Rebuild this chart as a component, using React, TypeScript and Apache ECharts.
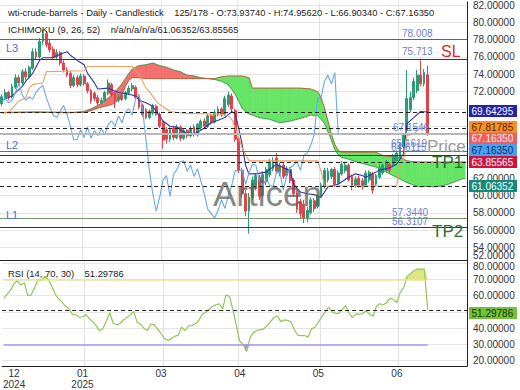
import React, { useEffect, useRef } from "react";
import * as echarts from "echarts";

// ---------- data ----------
const SLOT_COUNT = 136; // 125 bars + future slots for the shifted cloud

const OPEN = [
  70.6, 71.3, 71.9, 71.4, 72.5, 73.6, 73.0, 74.3, 73.7, 74.7,
  76.6, 76.0, 77.8, 78.7, 77.6, 76.9, 76.0, 76.5, 75.3, 74.5,
  74.1, 72.7, 73.6, 72.8, 73.8, 72.9, 72.1, 71.8, 71.3, 70.7,
  71.0, 71.8, 72.8, 71.8, 71.0, 71.6, 71.2, 71.8, 72.3, 72.5,
  71.5, 70.4, 69.9, 69.0, 69.5, 70.3, 69.4, 68.4, 67.6, 66.5,
  67.8, 66.7, 67.9, 66.6, 67.5, 66.9, 67.9, 67.0, 67.8, 68.6,
  68.0, 69.2, 68.5, 69.3, 70.0, 69.4, 70.5, 71.5, 69.8, 66.6,
  62.9, 60.2, 58.2, 59.8, 61.0, 62.1, 60.0, 61.6, 62.4, 63.1,
  64.3, 62.6, 63.5, 62.3, 63.0, 61.8, 60.3, 59.3, 59.0, 57.3,
  58.0, 59.4, 58.7, 59.9, 61.0, 61.8, 62.2, 63.0, 61.4, 62.5,
  62.9, 63.5, 62.2, 61.1, 62.0, 61.7, 61.2, 61.8, 62.5, 61.3,
  62.1, 62.6, 62.9, 63.6, 63.6, 64.0, 64.4, 65.6, 67.5, 69.9,
  71.3, 72.1, 73.9, 72.9, 73.9374,
];
const CLOSE = [
  71.4, 71.9, 71.4, 72.6, 73.6, 73.0, 74.3, 73.7, 74.8, 76.6,
  76.0, 77.8, 78.7, 77.4, 76.8, 76.0, 76.5, 75.3, 74.5, 73.9,
  72.7, 73.6, 72.8, 73.8, 72.9, 72.1, 70.9, 71.2, 70.7, 71.0,
  71.9, 73.0, 71.6, 71.0, 71.4, 71.1, 71.9, 72.4, 72.7, 71.3,
  70.2, 69.3, 69.0, 69.7, 70.4, 69.4, 68.0, 66.4, 66.5, 67.6,
  66.7, 67.9, 66.6, 67.5, 66.9, 67.7, 67.0, 68.2, 68.6, 68.0,
  69.2, 68.4, 69.6, 70.0, 69.3, 71.2, 71.6, 70.0, 66.5, 62.9,
  60.2, 58.2, 59.8, 61.8, 62.3, 59.9, 62.4, 63.0, 63.9, 64.0,
  62.8, 63.5, 62.2, 63.1, 61.7, 60.2, 58.4, 57.9, 57.4, 58.3,
  59.5, 58.5, 60.0, 61.2, 62.9, 62.8, 63.0, 61.3, 62.6, 63.6,
  63.5, 61.8, 61.1, 61.9, 61.2, 61.0, 62.6, 62.7, 60.6, 62.3,
  63.2, 63.5, 63.9, 62.9, 64.6, 64.9, 65.8, 67.0, 71.2, 71.3,
  73.2, 73.9, 72.9, 74.2, 67.1635,
];
const LOW = [
  70.3, 71.0, 71.0, 71.2, 72.3, 72.7, 72.8, 73.3, 73.5, 74.5,
  75.7, 75.8, 77.4, 77.1, 76.5, 75.7, 75.6, 75.0, 74.2, 73.7,
  72.4, 72.5, 72.5, 72.6, 72.7, 71.8, 70.6, 70.9, 70.4, 70.5,
  70.8, 71.6, 71.4, 70.1, 70.8, 70.9, 71.0, 71.6, 72.0, 71.1,
  70.0, 69.1, 68.8, 68.8, 69.3, 69.2, 67.8, 65.4, 66.0, 66.2,
  66.4, 66.5, 66.3, 66.4, 66.6, 66.7, 66.8, 66.8, 67.5, 67.8,
  67.8, 68.2, 68.3, 69.1, 69.1, 69.2, 70.2, 69.7, 66.2, 62.6,
  59.8, 57.6, 55.6, 59.5, 60.6, 59.5, 59.7, 61.2, 62.1, 62.8,
  62.5, 62.2, 61.9, 62.0, 61.4, 59.9, 58.0, 57.4, 56.8, 56.9,
  57.8, 58.1, 58.5, 59.7, 60.8, 61.5, 61.9, 61.0, 61.2, 62.3,
  62.6, 61.6, 60.6, 60.9, 60.9, 60.7, 61.0, 61.5, 60.2, 61.0,
  61.9, 62.4, 62.7, 62.6, 63.4, 63.8, 64.2, 65.4, 67.3, 69.6,
  71.0, 71.8, 72.6, 72.6, 66.9034,
];
const HIGH = [
  71.7, 72.3, 72.1, 72.9, 74.0, 73.9, 74.6, 74.7, 75.0, 77.0,
  77.0, 78.2, 79.1, 79.0, 78.1, 77.2, 76.9, 76.7, 75.6, 74.8,
  74.4, 73.9, 73.9, 74.1, 74.0, 73.1, 72.3, 72.0, 71.6, 71.3,
  72.1, 73.4, 73.0, 72.0, 71.7, 71.8, 72.1, 72.7, 73.0, 72.7,
  71.7, 70.6, 70.1, 69.9, 70.6, 70.5, 69.6, 68.6, 67.9, 67.9,
  68.0, 68.2, 68.1, 67.8, 67.7, 68.0, 68.2, 68.4, 68.8, 68.9,
  69.5, 69.4, 69.9, 70.3, 70.2, 71.5, 72.0, 71.8, 70.0, 66.8,
  63.2, 60.6, 60.3, 62.2, 62.6, 62.4, 62.8, 63.3, 64.2, 64.4,
  64.9, 63.8, 63.8, 63.4, 63.3, 62.0, 60.6, 59.6, 59.5, 58.7,
  59.8, 59.7, 60.2, 61.5, 63.2, 63.2, 63.2, 63.3, 62.9, 64.0,
  63.9, 63.7, 62.4, 62.2, 62.3, 62.0, 62.9, 62.9, 62.7, 62.5,
  63.6, 63.7, 64.1, 63.8, 64.8, 65.2, 66.0, 67.2, 74.5, 72.0,
  73.6, 74.5, 75.6, 74.6, 74.9562,
];

// Ichimoku lines: [bar index, value]
const TENKAN: [number, number][] = [
  [0, 71.0], [3, 71.5], [6, 72.6], [7, 73.2], [9, 74.1], [11, 75.6], [12, 75.9], [15, 75.9],
  [17, 76.3], [19, 76.6], [20, 76.2], [22, 75.6], [24, 75.1], [25, 74.1], [27, 73.0], [28, 72.3],
  [31, 72.4], [32, 72.2], [34, 71.9], [37, 71.7], [39, 71.5], [40, 71.0], [42, 70.7], [44, 70.3],
  [45, 69.7], [47, 68.6], [49, 68.0], [51, 67.9], [53, 67.4], [55, 67.0], [57, 67.3], [59, 67.8],
  [61, 68.4], [63, 68.7], [65, 69.0], [67, 69.7], [68, 69.4], [69, 67.8], [70, 65.9], [71, 63.5],
  [72, 62.5], [74, 62.5], [77, 62.7], [80, 63.6], [82, 63.2], [84, 62.9], [85, 61.3], [87, 60.4],
  [89, 60.2], [91, 60.1], [93, 59.8], [95, 61.0], [98, 61.3], [101, 62.1], [103, 62.5], [105, 62.3],
  [106, 62.1], [108, 62.5], [110, 62.9], [113, 63.2], [115, 63.6], [117, 64.8], [118, 68.3],
  [120, 69.0], [122, 69.7], [124, 69.64295],
];
const KIJUN: [number, number][] = [
  [0, 69.5], [2, 69.6], [5, 70.9], [7, 71.3], [8, 72.4], [9, 72.8], [12, 73.0], [13, 74.3],
  [24, 74.4], [25, 74.9], [38, 74.9], [40, 74.0], [42, 72.4], [43, 72.0], [45, 70.9], [46, 70.5],
  [49, 69.7], [53, 69.5], [63, 69.4], [66, 69.2], [67, 68.8], [68, 67.8], [69, 66.7], [70, 65.5],
  [71, 64.8], [72, 64.0], [92, 64.0], [93, 62.8], [94, 61.1], [115, 61.1], [116, 63.2], [117, 64.0],
  [118, 66.9], [120, 67.1], [122, 67.8], [124, 67.81785],
];
const CHIKOU_SHIFT = 26;

const CLOUD_X = [
  0, 10, 20, 24, 26, 28, 30, 32, 34, 35, 36, 37, 38, 40, 42, 44, 46, 48, 50, 52, 54, 56, 58, 60, 62,
  63, 64, 66, 68, 70, 72, 73, 75, 78, 81, 84, 87, 90, 92, 93, 94, 95, 96, 97, 98, 99, 101, 104, 106,
  109, 111, 113, 116, 118, 120, 122, 124, 126, 128, 130, 132, 134, 135,
];
const SENKOU_A = [
  69.55, 69.6, 69.55, 69.7, 70.0, 70.4, 70.9, 71.6, 72.4, 72.9, 73.5, 74.1, 74.6, 75.0, 75.1, 75.3,
  75.0, 74.8, 74.5, 74.3, 73.9, 73.8, 73.6, 73.5, 73.4, 73.3, 73.2, 72.8, 71.7, 70.1, 69.4, 69.3,
  69.0, 68.8, 68.4, 68.6, 68.9, 69.3, 69.2, 68.8, 68.3, 67.4, 66.4, 65.3, 64.7, 64.4, 64.2, 63.8,
  63.6, 63.3, 62.9, 62.5, 61.9, 61.5, 61.2, 61.0, 61.06352, 61.0, 61.1, 61.3, 61.6, 61.9, 62.0,
];
const SENKOU_B = [
  69.6, 69.65, 69.6, 69.6, 69.8, 70.1, 70.3, 70.5, 71.0, 71.6, 72.6, 73.3, 73.6, 73.6, 73.5, 73.5,
  73.5, 73.5, 73.5, 73.5, 73.5, 73.5, 73.5, 73.5, 73.5, 73.6, 73.7, 73.8, 73.8, 73.8, 73.6, 72.4,
  72.4, 72.4, 72.4, 72.4, 72.4, 72.3, 72.0, 71.3, 70.1, 68.6, 67.1, 65.9, 65.2, 65.0, 65.0, 65.0,
  65.0, 65.0, 64.6, 64.5, 64.4, 64.0, 63.9, 63.86, 63.85565, 63.85565, 63.85565, 63.85565,
  63.85565, 63.85565, 63.85565,
];

const RSI = [
  58.5, 61.0, 63.5, 67.5, 69.2, 66.5, 68.0, 60.0, 60.5, 64.8,
  70.0, 69.3, 72.0, 70.0, 66.0, 61.0, 58.0, 56.1, 53.5, 52.2,
  48.5, 48.3, 46.8, 47.0, 48.3, 45.8, 43.8, 41.5, 38.3, 39.8,
  44.5, 49.3, 43.0, 42.0, 42.8, 45.0, 46.5, 48.3, 50.2, 43.5,
  42.5, 39.8, 38.5, 42.5, 42.0, 39.5, 36.5, 33.5, 32.3, 33.5,
  35.0, 35.5, 40.6, 38.5, 41.2, 41.5, 42.5, 44.5, 48.5, 49.6,
  51.5, 53.3, 54.3, 55.0, 51.8, 60.5, 59.5, 51.5, 41.6, 32.0,
  29.8, 25.5, 33.8, 37.2, 38.4, 39.1, 39.4, 41.5, 43.9, 46.5,
  47.6, 44.0, 45.0, 44.8, 43.8, 39.0, 35.6, 35.4, 35.4, 34.3,
  39.5, 40.5, 43.5, 47.0, 49.8, 53.0, 50.0, 49.2, 49.0, 51.6,
  53.8, 49.0, 46.5, 48.8, 48.4, 49.0, 50.8, 48.5, 47.3, 53.5,
  55.0, 54.4, 55.7, 58.5, 57.5, 55.8, 62.0, 65.2, 71.8, 73.6,
  75.5, 76.4, 76.4, 76.4, 51.29786,
];
const RSI_UPPER = 70;
const RSI_LOWER = 30;

// horizontal levels (L3: 78.008 / 75.713, L2, L1, Ichimoku current values, price)
const LEVELS = [78.008, 75.713, 69.64295, 67.81785, 67.1635, 65.1619, 64.6115, 63.85565, 61.06352, 57.344, 56.3107];

const PRICE_GRID_TICKS = [54, 56, 58, 60, 62, 64, 66, 68, 70, 72, 74, 76, 78, 80, 82];
const PRICE_LABEL_TICKS = [54, 56, 58, 60, 62, 72, 74, 76, 78, 80, 82];
const RSI_GRID_TICKS = [20, 30, 40, 50, 60, 70, 80];
const RSI_LABEL_TICKS = [20, 30, 40, 50, 60, 70];
const MONTH_IDX = [3, 23, 46, 69, 92, 115];
const MONTH_LABELS = ["12\n2024", "01\n2025", "03", "04", "05", "06"];
const VGRID_IDX = [24, 47, 69, 93, 116];

// ---------- styles ----------
const FONT = "'Liberation Sans', Arial, Helvetica, sans-serif";
const UP = "#2a9d76";
const DOWN = "#e2434b";
const CLOUD_UP = "rgba(86,226,86,0.9)";
const CLOUD_DOWN = "rgba(244,96,96,0.9)";
const DASH: number[] = [4, 3];
const LEVEL_STYLE = [
  { color: "#d93030", width: 1.2, type: "solid" },
  { color: "#2a2a9c", width: 1.2, type: "solid" },
  { color: "#222", width: 1, type: DASH },
  { color: "#222", width: 1, type: DASH },
  { color: "#b8b8b8", width: 2, type: "solid" },
  { color: "#3e8e3e", width: 1.2, type: "solid" },
  { color: "#2a2a9c", width: 1.2, type: "solid" },
  { color: "#222", width: 1, type: DASH },
  { color: "#222", width: 1, type: DASH },
  { color: "#7a9a6a", width: 1.2, type: "solid" },
  { color: "#2a2a9c", width: 1.2, type: "solid" },
];

function txt(x: number, y: number, text: string, size: number, fill: string, extra: any = {}) {
  return {
    type: "text",
    x,
    y,
    z: 100,
    silent: true,
    style: { text, fill, fontSize: size, fontFamily: FONT, verticalAlign: "middle", align: "left", ...extra },
  };
}

function box(y: number, text: string, bg: string, fg: string) {
  return {
    type: "group",
    z: 110,
    silent: true,
    children: [
      { type: "rect", shape: { x: 469, y: y - 6, width: 48, height: 12 }, style: { fill: bg }, z: 110 },
      {
        type: "text",
        x: 471.5,
        y,
        z: 111,
        style: { text, fill: fg, fontSize: 10, fontFamily: FONT, verticalAlign: "middle" },
      },
    ],
  };
}

function buildOption(): any {
  const cats = Array.from({ length: SLOT_COUNT }, (_, i) => String(i));
  const candles = OPEN.map((o, i) => [o, CLOSE[i], LOW[i], HIGH[i]]);
  const chikou = CLOSE.slice(CHIKOU_SHIFT).map((c, k) => [k, c]);
  const cloudSegs = CLOUD_X.slice(0, -1).map((x, k) => [
    x, SENKOU_A[k], SENKOU_B[k], CLOUD_X[k + 1], SENKOU_A[k + 1], SENKOU_B[k + 1],
  ]);
  const lastIdx = RSI.length - 1;

  const poly = (pts: number[][], fill: string) => ({
    type: "polygon",
    shape: { points: pts },
    style: { fill, stroke: fill, lineWidth: 0.4 },
  });

  return {
    animation: false,
    backgroundColor: "#ffffff",
    textStyle: { fontFamily: FONT },
    grid: [
      { left: 0, right: 53, top: 0, height: 260 },
      { left: 0, right: 53, top: 260, height: 109 },
    ],
    xAxis: [
      {
        type: "category",
        gridIndex: 0,
        data: cats,
        boundaryGap: true,
        axisLine: { show: true, lineStyle: { color: "#222", width: 1 } },
        axisTick: { show: false },
        axisLabel: { show: false },
        splitLine: { show: true, interval: (i: number) => VGRID_IDX.includes(i), lineStyle: { color: "#e2e2e2" } },
      },
      {
        type: "category",
        gridIndex: 1,
        data: cats,
        boundaryGap: true,
        axisLine: { show: true, lineStyle: { color: "#222", width: 1 } },
        axisTick: { show: false },
        axisLabel: {
          show: true,
          interval: (i: number) => MONTH_IDX.includes(i),
          formatter: (_v: string, i: number) => {
            const k = MONTH_IDX.indexOf(i);
            return k >= 0 ? MONTH_LABELS[k] : "";
          },
          fontSize: 10,
          lineHeight: 11,
          color: "#333",
          margin: 2,
          fontFamily: FONT,
        },
        splitLine: { show: true, interval: (i: number) => VGRID_IDX.includes(i), lineStyle: { color: "#e2e2e2" } },
      },
    ],
    yAxis: [
      {
        type: "value",
        gridIndex: 0,
        position: "right",
        min: 52.55,
        max: 82.36,
        axisLine: { show: true, lineStyle: { color: "#222", width: 1 } },
        axisTick: { show: false, customValues: PRICE_GRID_TICKS },
        axisLabel: {
          customValues: PRICE_LABEL_TICKS,
          formatter: (v: number) => v.toFixed(5),
          fontSize: 10,
          color: "#333",
          margin: 6,
          fontFamily: FONT,
        },
        splitLine: { show: true, lineStyle: { color: "#e6e6e6" } },
      },
      {
        type: "value",
        gridIndex: 1,
        position: "right",
        min: 16.6,
        max: 82,
        axisLine: { show: true, lineStyle: { color: "#222", width: 1 } },
        axisTick: { show: false, customValues: RSI_GRID_TICKS },
        axisLabel: {
          customValues: RSI_LABEL_TICKS,
          formatter: (v: number) => v.toFixed(5),
          fontSize: 10,
          color: "#333",
          margin: 6,
          fontFamily: FONT,
        },
        splitLine: { show: true, lineStyle: { color: "#e6e6e6" } },
      },
    ],
    series: [
      {
        type: "custom",
        name: "cloud",
        xAxisIndex: 0,
        yAxisIndex: 0,
        z: 1,
        clip: true,
        silent: true,
        data: cloudSegs,
        encode: { x: 0, y: 1 },
        renderItem: (_p: any, api: any) => {
          const x0 = api.value(0), a0 = api.value(1), b0 = api.value(2);
          const x1 = api.value(3), a1 = api.value(4), b1 = api.value(5);
          const pa0 = api.coord([x0, a0]), pb0 = api.coord([x0, b0]);
          const pa1 = api.coord([x1, a1]), pb1 = api.coord([x1, b1]);
          const d0 = b0 - a0, d1 = b1 - a1;
          const children: any[] = [];
          if (d0 * d1 < 0) {
            const t = d0 / (d0 - d1);
            const pm = [pa0[0] + t * (pa1[0] - pa0[0]), pa0[1] + t * (pa1[1] - pa0[1])];
            children.push(poly([pa0, pm, pb0], d0 > 0 ? CLOUD_UP : CLOUD_DOWN));
            children.push(poly([pm, pa1, pb1], d1 > 0 ? CLOUD_UP : CLOUD_DOWN));
          } else {
            children.push(poly([pa0, pa1, pb1, pb0], d0 + d1 >= 0 ? CLOUD_UP : CLOUD_DOWN));
          }
          return { type: "group", children };
        },
      },
      {
        type: "line",
        name: "senkouA",
        xAxisIndex: 0,
        yAxisIndex: 0,
        z: 2,
        showSymbol: false,
        silent: true,
        data: CLOUD_X.map((x, k) => [x, SENKOU_A[k]]),
        lineStyle: { color: "#4e9a50", width: 1 },
      },
      {
        type: "line",
        name: "senkouB",
        xAxisIndex: 0,
        yAxisIndex: 0,
        z: 2,
        showSymbol: false,
        silent: true,
        data: CLOUD_X.map((x, k) => [x, SENKOU_B[k]]),
        lineStyle: { color: "#b4643c", width: 1 },
      },
      {
        type: "candlestick",
        name: "price",
        xAxisIndex: 0,
        yAxisIndex: 0,
        z: 3,
        barWidth: "68%",
        data: candles,
        itemStyle: { color: UP, color0: DOWN, borderColor: UP, borderColor0: DOWN, borderWidth: 1 },
        markLine: {
          silent: true,
          symbol: ["none", "none"],
          label: { show: false },
          animation: false,
          data: LEVELS.map((v, k) => ({ yAxis: v, lineStyle: LEVEL_STYLE[k] })),
        },
      },
      {
        type: "line",
        name: "tenkan",
        xAxisIndex: 0,
        yAxisIndex: 0,
        z: 4,
        showSymbol: false,
        silent: true,
        data: TENKAN,
        lineStyle: { color: "#3434a8", width: 1.1 },
      },
      {
        type: "line",
        name: "kijun",
        xAxisIndex: 0,
        yAxisIndex: 0,
        z: 4,
        showSymbol: false,
        silent: true,
        data: KIJUN,
        lineStyle: { color: "#f2a062", width: 1.1 },
      },
      {
        type: "line",
        name: "chikou",
        xAxisIndex: 0,
        yAxisIndex: 0,
        z: 4,
        showSymbol: false,
        silent: true,
        data: chikou,
        lineStyle: { color: "#6aa8e8", width: 1.1 },
      },
      {
        type: "line",
        name: "rsiOB",
        xAxisIndex: 1,
        yAxisIndex: 1,
        z: 2,
        showSymbol: false,
        silent: true,
        data: RSI.map((v) => Math.max(v, RSI_UPPER)),
        lineStyle: { width: 0 },
        areaStyle: { origin: RSI_UPPER, color: "rgba(196,214,40,0.85)" },
      },
      {
        type: "line",
        name: "rsiOS",
        xAxisIndex: 1,
        yAxisIndex: 1,
        z: 2,
        showSymbol: false,
        silent: true,
        data: RSI.map((v) => Math.min(v, RSI_LOWER)),
        lineStyle: { width: 0 },
        areaStyle: { origin: RSI_LOWER, color: "rgba(110,96,210,0.85)" },
      },
      {
        type: "line",
        name: "rsi",
        xAxisIndex: 1,
        yAxisIndex: 1,
        z: 4,
        showSymbol: false,
        silent: true,
        data: RSI,
        lineStyle: { color: "#93c556", width: 1.2 },
        markLine: {
          silent: true,
          symbol: ["none", "none"],
          label: { show: false },
          animation: false,
          data: [
            [
              { coord: ["0", RSI_UPPER], lineStyle: { color: "#e4e49a", width: 1.6, type: "solid" } },
              { coord: [String(lastIdx), RSI_UPPER] },
            ],
            [
              { coord: ["0", RSI_LOWER], lineStyle: { color: "#a29be6", width: 1.6, type: "solid" } },
              { coord: [String(lastIdx), RSI_LOWER] },
            ],
            { yAxis: RSI[lastIdx], lineStyle: { color: "#222", width: 1, type: DASH } },
          ],
        },
      },
    ],
    graphic: {
      elements: [
        txt(8, 12.7, "wti-crude-barrels - Daily - Candlestick    125/178 - O:" + OPEN[lastIdx].toFixed(5) +
          " - H:" + HIGH[lastIdx].toFixed(5) + " - L:" + LOW[lastIdx].toFixed(5) + " - C:" + CLOSE[lastIdx].toFixed(5), 9.4, "#222"),
        txt(8, 29.3, "ICHIMOKU (9, 26, 52)    n/a/n/a/n/a/" + LEVELS[8].toFixed(5) + "/" + LEVELS[7].toFixed(5), 9.4, "#222"),
        txt(8, 273, "RSI (14, 70, 30)    " + RSI[lastIdx].toFixed(5), 9.4, "#222"),
        txt(213, 193, "Articen", 35, "rgba(95,95,95,0.75)"),
        txt(6, 48, "L3", 11, "#4b6fd1"),
        txt(6, 145, "L2", 11, "#4b6fd1"),
        txt(6, 215, "L1", 11, "#4b6fd1"),
        txt(402, 33, LEVELS[0].toFixed(3), 10, "#6b7fd4"),
        txt(402, 51.5, LEVELS[1].toFixed(3), 10, "#6b7fd4"),
        txt(393, 127, "67.1546", 10, "#6b7fd4"),
        txt(391, 143.5, LEVELS[5].toFixed(4), 10, "#6b7fd4"),
        txt(391, 147.5, LEVELS[6].toFixed(4), 10, "#6b7fd4"),
        txt(392, 212, LEVELS[9].toFixed(4), 10, "#6b7fd4"),
        txt(392, 221, LEVELS[10].toFixed(4), 10, "#6b7fd4"),
        txt(441, 51, "SL", 16, "#d92b2b"),
        txt(427, 146, "Price", 17, "#9a9a9a"),
        txt(432, 162.5, "TP1", 17, "#2f6f2f"),
        txt(432, 231, "TP2", 17, "#2f6f2f"),
        txt(473, 255.5, "52.00000", 10, "#333"),
        txt(473, 266.5, "80.00000", 10, "#333"),
        box(111, LEVELS[2].toFixed(5), "#2323a8", "#ffffff"),
        box(127, LEVELS[3].toFixed(5), "#f5922a", "#5a1c00"),
        box(138.5, CLOSE[lastIdx].toFixed(5), "#ef5d5d", "#fff0f0"),
        box(150, CLOSE[lastIdx].toFixed(5), "#4aa0f0", "#0e2f66"),
        box(162, LEVELS[7].toFixed(5), "#cf1240", "#ffffff"),
        box(186, LEVELS[8].toFixed(5), "#138b7b", "#ffffff"),
        box(313, RSI[lastIdx].toFixed(5), "#72c23c", "#173800"),
      ],
    },
  };
}

export default function App() {
  const ref = useRef<HTMLDivElement>(null);
  useEffect(() => {
    const chart = echarts.init(ref.current as HTMLDivElement, null, { renderer: "svg" });
    chart.setOption(buildOption());
    return () => chart.dispose();
  }, []);
  return (
    <div
      ref={ref}
      style={{ position: "absolute", left: 0, top: 0, width: 520, height: 390, background: "#fff" }}
    />
  );
}
